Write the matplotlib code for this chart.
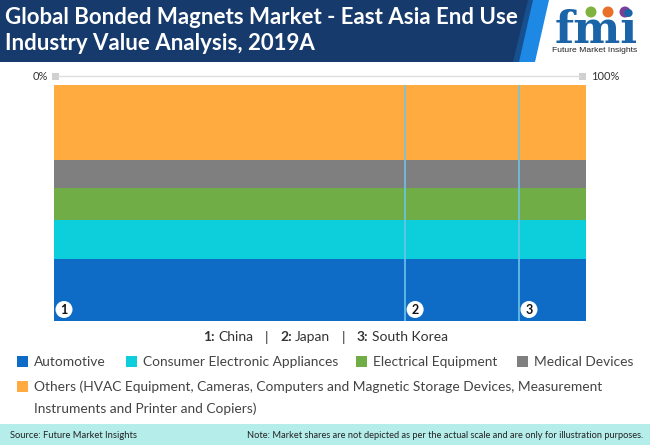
import matplotlib
matplotlib.use("Agg")
import matplotlib.pyplot as plt
from matplotlib.patches import Polygon, Rectangle, Circle

countries = ["China", "Japan", "South Korea"]
country_widths = [66.0, 21.4, 12.6]
segments = ["Automotive", "Consumer Electronic Appliances", "Electrical Equipment", "Medical Devices", "Others"]
automotive = [26.0, 26.0, 26.0]
consumer = [16.5, 16.5, 16.5]
electrical = [13.5, 13.5, 13.5]
medical = [12.0, 11.8, 12.0]
others = [32.0, 32.2, 32.0]
seg_values = [automotive, consumer, electrical, medical, others]
colors = ["#0F6CC6", "#0CCFDB", "#70AD47", "#7F7F7F", "#FFAB40"]

plt.rcParams['font.family'] = ['Lato', 'DejaVu Sans']
W, H = 650, 445
fig = plt.figure(figsize=(W/100, H/100), dpi=100, facecolor="white")

# page overlay in pixel coordinates
bg = fig.add_axes([0, 0, 1, 1])
bg.set_xlim(0, W); bg.set_ylim(H, 0); bg.axis("off")
bg.add_patch(Polygon([[0, 0], [549, 0], [535, 62], [0, 62]], fc="#1E88E5", ec="none"))
bg.add_patch(Polygon([[0, 0], [533, 0], [519, 62], [0, 62]], fc="#17508F", ec="none"))
bg.add_patch(Polygon([[0, 0], [528, 0], [513, 62], [0, 62]], fc="#163A6B", ec="none"))
bg.add_patch(Rectangle((0, 424), W, 21, fc="#B5EDEA", ec="none"))
bg.text(5, 17, "Global Bonded Magnets Market - East Asia End Use", color="white", fontsize=16, fontweight="bold", va="center")
bg.text(5, 44, "Industry Value Analysis, 2019A", color="white", fontsize=16, fontweight="bold", va="center")

# logo
bg.text(596, 43, "fmi", color="#1B64A8", fontsize=32, fontweight="bold", family="DejaVu Serif",
        ha="center", va="baseline")
for yy in (20, 26, 32, 38):
    bg.plot([552, 640], [yy, yy], color="white", lw=0.7)
for cx, c in zip((591, 608, 625), ("#7FB23F", "#E8702A", "#7B3F98")):
    bg.add_patch(Circle((cx, 12), 5.5, fc=c, ec="none"))
bg.text(595, 50.5, "Future Market Insights", color="#222222", fontsize=6.1, ha="center", va="center", family="Liberation Sans")

# scale line
bg.plot([58, 580], [76, 76], color="#DDDDDD", lw=1)
bg.add_patch(Rectangle((52, 72.5), 7, 7, fc="#D0D0D0", ec="none"))
bg.add_patch(Rectangle((579, 72.5), 7, 7, fc="#D0D0D0", ec="none"))
bg.text(48, 76, "0%", ha="right", va="center", fontsize=8, color="#333333")
bg.text(591, 76, "100%", ha="left", va="center", fontsize=8, color="#333333")

# mekko
ax = fig.add_axes([54/W, 1-320.5/H, 532/W, 236/H])
ax.set_xlim(0, 100); ax.set_ylim(0, 100); ax.axis("off")
left = 0
lefts = []
for i, w in enumerate(country_widths):
    lefts.append(left)
    bottom = 0
    for vals, c in zip(seg_values, colors):
        ax.bar(left, vals[i], width=w, bottom=bottom, align="edge", color=c, lw=0)
        bottom += vals[i]
    if i > 0:
        ax.axvline(left, color="#6CC5E8", lw=1.3, alpha=0.9)
    left += w
for i, l in enumerate(lefts):
    ax.annotate(str(i+1), xy=(l, 0), xytext=(10, 11), textcoords="offset pixels", ha="center", va="center",
                fontsize=9, fontweight="bold", color="#111111",
                bbox=dict(boxstyle="circle,pad=0.2", fc="white", ec="none"))

# country key
parts = [("1:", 203), ("China", 218), ("|", 265), ("2:", 280), ("Japan", 295), ("|", 342), ("3:", 357), ("South Korea", 372)]
for t, x in parts:
    bg.text(x, 337, t, fontsize=10, va="center", color="#333333",
            fontweight="bold" if t.endswith(":") else "normal")

# legend
def key(x, y, c, label):
    bg.add_patch(Rectangle((x, y-5.5), 11, 11, fc=c, ec="none"))
    bg.text(x+17, y+0.7, label, fontsize=9.9, va="center", color="#444444")
key(17, 361, colors[0], segments[0])
key(126, 361, colors[1], segments[1])
key(356, 361, colors[2], segments[2])
key(517, 361, colors[3], segments[3])
key(17, 386, colors[4], "Others (HVAC Equipment, Cameras, Computers and Magnetic Storage Devices, Measurement")
bg.text(34, 408.7, "Instruments and Printer and Copiers)", fontsize=9.9, va="center", color="#444444")

bg.text(10, 435, "Source: Future Market Insights", fontsize=6.75, va="center", color="#222222")
bg.text(643, 435, "Note: Market shares are not depicted as per the actual scale and are only for illustration purposes.",
        fontsize=6.65, va="center", ha="right", color="#222222")
fig.savefig("out.png", dpi=100)
